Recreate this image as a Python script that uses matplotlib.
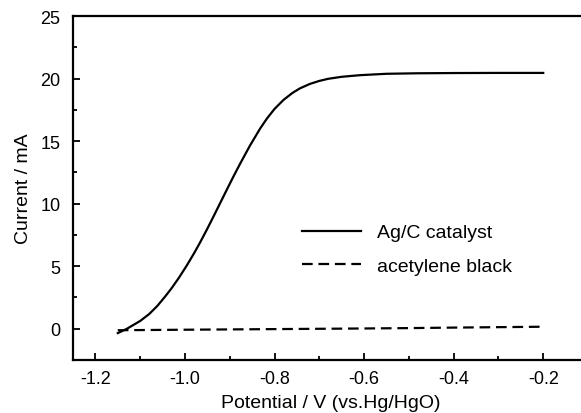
import matplotlib
matplotlib.use("Agg")
import matplotlib.pyplot as plt
from matplotlib.ticker import MultipleLocator

plt.rcParams['font.family'] = ['Liberation Sans', 'DejaVu Sans']

# Ag/C catalyst curve
agc_x = [-1.150, -1.130, -1.100, -1.080, -1.062, -1.045, -1.030, -1.013, -0.996,
         -0.980, -0.966, -0.951, -0.937, -0.922, -0.907, -0.892, -0.877, -0.855,
         -0.832, -0.817, -0.800, -0.780, -0.760, -0.743, -0.721, -0.700, -0.680,
         -0.650, -0.609, -0.550, -0.483, -0.400, -0.300, -0.200]
agc_y = [-0.35, -0.01, 0.62, 1.17, 1.81, 2.54, 3.23, 4.10, 5.05,
         6.01, 6.91, 7.93, 8.92, 10.00, 11.08, 12.15, 13.18, 14.63,
         16.01, 16.80, 17.57, 18.29, 18.85, 19.22, 19.57, 19.81, 19.98,
         20.14, 20.27, 20.38, 20.42, 20.44, 20.45, 20.45]

# acetylene black curve
ab_x = [-1.150, -1.000, -0.800, -0.600, -0.500, -0.400, -0.200]
ab_y = [-0.12, -0.08, -0.03, 0.02, 0.05, 0.09, 0.16]

xticks = [-1.2, -1.0, -0.8, -0.6, -0.4, -0.2]
yticks = [0, 5, 10, 15, 20, 25]

fig = plt.figure(figsize=(5.81, 4.14), dpi=100)
ax = fig.add_axes([73/581, 53/414, 515/581, 344/414])

ax.plot(agc_x, agc_y, color='black', lw=1.6, label='Ag/C catalyst')
ax.plot(ab_x, ab_y, color='black', lw=1.6, ls=(0, (4.8, 2.6)), label='acetylene black')

ax.set_xlim(-1.25, -0.1)
ax.set_ylim(-2.5, 25)
ax.set_xticks(xticks)
ax.set_xticklabels([f"{t:.1f}" for t in xticks])
ax.set_yticks(yticks)
ax.xaxis.set_minor_locator(MultipleLocator(0.1))
ax.yaxis.set_minor_locator(MultipleLocator(2.5))
ax.tick_params(which='both', direction='in', width=1.3, labelsize=13, colors='black')
ax.tick_params(which='major', length=5)
ax.tick_params(axis='y', which='major', pad=9)
ax.tick_params(axis='x', which='major', pad=7)
ax.tick_params(which='minor', length=3)
ax.tick_params(axis='x', which='both', top=False)
ax.tick_params(axis='y', which='both', right=False)
for s in ax.spines.values():
    s.set_linewidth(1.6)

ax.set_xlabel('Potential / V (vs.Hg/HgO)', fontsize=14, labelpad=5)
ax.set_ylabel('Current / mA', fontsize=14, labelpad=6)

ax.legend(loc='center left', bbox_to_anchor=(0.445, 0.322), frameon=False,
          fontsize=14, handlelength=3.0, handletextpad=0.85, labelspacing=0.8,
          borderpad=0, borderaxespad=0)

fig.savefig('out.png', dpi=100)
